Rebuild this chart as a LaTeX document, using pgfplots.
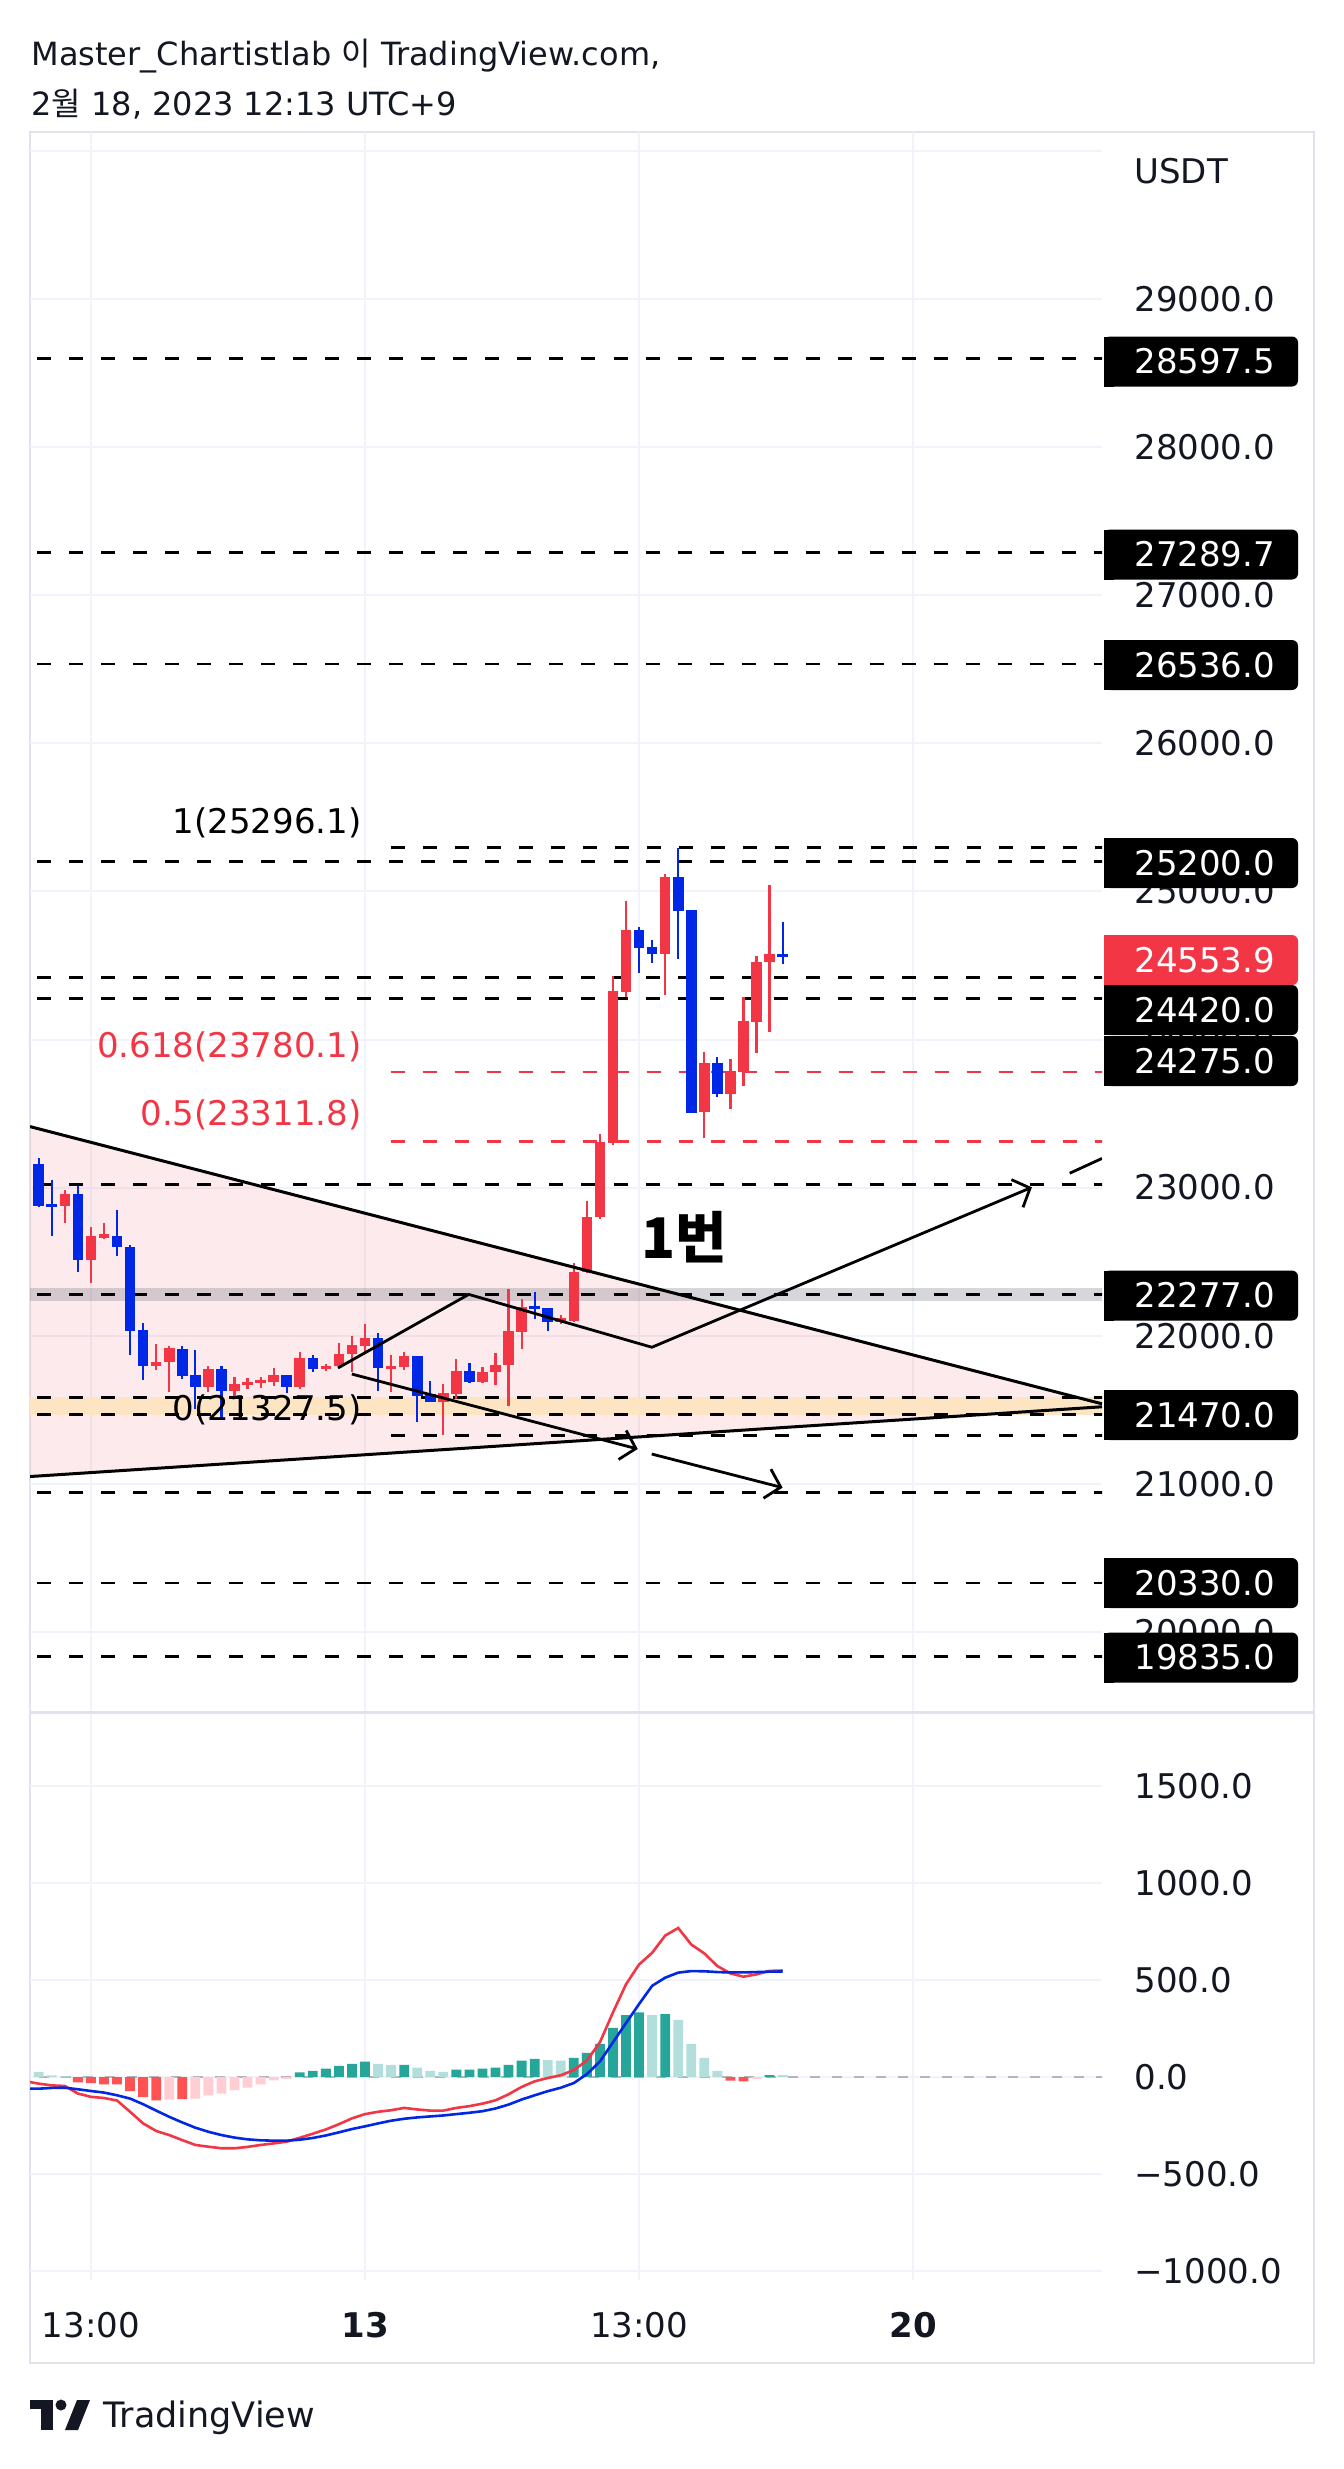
\documentclass[border=0pt]{standalone}
\usepackage{fontspec}
\usepackage{pgfplots}
\pgfplotsset{compat=1.18}
\usepackage{pgfplotstable}
\usetikzlibrary{arrows.meta}
\setmainfont{DejaVu Sans}
\newfontfamily\krfont{Noto Sans CJK KR}
\definecolor{cred}{RGB}{242,54,69}
\definecolor{cblue}{RGB}{0,38,230}
\definecolor{ctext}{RGB}{19,23,34}
\definecolor{cgrid}{RGB}{240,243,250}
\definecolor{cframe}{RGB}{224,227,235}
\definecolor{cteal}{RGB}{38,166,154}
\definecolor{clteal}{RGB}{178,223,219}
\definecolor{chred}{RGB}{255,82,82}
\definecolor{cpinkbar}{RGB}{255,205,210}
\definecolor{corange}{RGB}{253,228,195}
\definecolor{cgband}{RGB}{120,123,134}
\definecolor{czero}{RGB}{178,181,190}
\tikzset{
  dline/.style={black, line width=1.4pt, dash pattern=on 7pt off 9pt},
  rline/.style={cred, line width=1.4pt, dash pattern=on 7pt off 9pt},
  tline/.style={black, line width=1.5pt},
  arr/.style={black, line width=1.4pt, -{Straight Barb[length=7pt,width=15pt]}},
}
\newcommand\tf{\fontsize{17pt}{20pt}\selectfont}

\pgfplotstableread{
k o h l c
-23 22873 22986 22761 22957
-21 22511 22736 22360 22675
-20 22657 22758 22653 22686
-16 21797 21944 21770 21820
-15 21820 21928 21622 21914
-12 21651 21797 21622 21775
-10 21629 21719 21584 21674
-9 21667 21712 21640 21689
-8 21680 21719 21651 21696
-7 21689 21779 21662 21734
-5 21651 21887 21644 21847
-3 21775 21809 21764 21797
-2 21797 21950 21786 21876
-1 21876 21995 21757 21937
0 21932 22079 21883 21982
2 21779 21869 21622 21797
3 21786 21892 21770 21860
6 21554 21674 21329 21611
7 21606 21843 21572 21764
9 21690 21786 21680 21757
10 21757 21881 21667 21804
11 21802 22311 21523 22029
12 22027 22248 21910 22191
15 22094 22140 22079 22117
16 22101 22488 22094 22432
17 22428 22911 22423 22799
18 22799 23361 22787 23309
19 23300 24430 23287 24329
20 24322 24937 24291 24739
23 24576 25117 24300 25094
26 23512 23913 23339 23838
28 23631 23868 23530 23784
29 23782 24284 23687 24122
30 24120 24565 23912 24520
31 24520 25042 24052 24576
}\upc
\pgfplotstableread{
k o h l c
-25 23159 23197 22867 22878
-24 22882 23047 22675 22873
-22 22957 23008 22432 22511
-19 22675 22848 22536 22596
-18 22596 22614 21869 22034
-17 22038 22086 21703 21797
-14 21910 21928 21707 21730
-13 21734 21905 21509 21651
-11 21775 21797 21442 21629
-6 21734 21734 21613 21651
-4 21847 21869 21757 21775
1 21982 22018 21629 21779
4 21860 21865 21419 21595
5 21606 21692 21554 21554
8 21764 21813 21680 21690
13 22198 22293 22112 22180
14 22184 22184 22034 22090
21 24739 24761 24448 24621
22 24622 24673 24516 24576
24 25094 25290 24543 24869
25 24874 24874 23503 23507
27 23838 23879 23613 23631
32 24576 24790 24509 24554
}\dnc

\newcommand\pbox[3]{%
  \fill[#3, rounded corners=3pt] (1104,#1-25) rectangle (1298,#1+25);
  \fill[#3] (1104,#1-25) rectangle (1114,#1+25);
  \node[anchor=west, inner sep=0pt, text=white, font=\tf] at (1134,#1) {#2};}

\begin{document}
\begin{tikzpicture}
\fill[white] (0,0) rectangle (672pt,-1234.5pt);
\useasboundingbox (0,0) rectangle (672pt,-1234.5pt);

\begin{scope}[x=0.5pt,y=-0.5pt]
  \node[anchor=base west, inner sep=0pt, text=ctext, font=\fontsize{16pt}{19pt}\selectfont] at (31,65) {Master\_Chartistlab {\krfont 이} TradingView.com,};
  \node[anchor=base west, inner sep=0pt, text=ctext, font=\fontsize{16pt}{19pt}\selectfont] at (31,115) {2{\krfont 월} 18, 2023 12:13 UTC+9};
  \draw[cframe, line width=1pt] (30,132) rectangle (1314,2363);
  \node[anchor=west, inner sep=0pt, text=ctext, font=\tf] at (1134,171) {USDT};
\end{scope}

% ---------------- main price pane ----------------
\begin{axis}[
  at={(15pt,-66pt)}, anchor=north west,
  width=536pt, height=790pt, scale only axis,
  xmin=-25.67, xmax=56.475, ymin=19459, ymax=30127.6,
  axis line style={draw=none},
  major tick length=0pt,
  scaled y ticks=false, scaled x ticks=false,
  xtick={-21,0,21,42}, xticklabels={,,,},
  ytick={20000,21000,22000,23000,24000,25000,26000,27000,28000,29000,30000},
  yticklabels={20000.0,21000.0,22000.0,23000.0,24000.0,25000.0,26000.0,27000.0,28000.0,29000.0,{}},
  yticklabel pos=right,
  yticklabel style={anchor=west, inner sep=0pt, xshift=16pt, font=\tf, text=ctext},
  grid=major, major grid style={draw=cgrid, line width=1pt},
]
% triangle
\addplot[fill=cred, fill opacity=0.1, draw=none, forget plot] coordinates {(-25.67,23412) (56.475,21540) (56.475,21520) (-25.67,21049)};
% bands
\addplot[fill=corange, draw=none, forget plot] coordinates {(-30,21465) (60,21465) (60,21585) (-30,21585)};
\addplot[fill=cgband, fill opacity=0.3, draw=none, forget plot] coordinates {(-30,22232) (60,22232) (60,22322) (-30,22322)};
% horizontal lines
\addplot[dline] coordinates {(-30,28597.5) (60,28597.5)};
\addplot[dline] coordinates {(-30,27289.7) (60,27289.7)};
\addplot[dline] coordinates {(-30,26536.0) (60,26536.0)};
\addplot[dline] coordinates {(-30,25200.0) (60,25200.0)};
\addplot[dline] coordinates {(-30,24420.0) (60,24420.0)};
\addplot[dline] coordinates {(-30,24275.0) (60,24275.0)};
\addplot[dline] coordinates {(-30,23022) (60,23022)};
\addplot[dline] coordinates {(-30,22277.0) (60,22277.0)};
\addplot[dline] coordinates {(-30,21585) (60,21585)};
\addplot[dline] coordinates {(-30,21470.0) (60,21470.0)};
\addplot[dline] coordinates {(-30,20940) (60,20940)};
\addplot[dline] coordinates {(-30,20330.0) (60,20330.0)};
\addplot[dline] coordinates {(-30,19835.0) (60,19835.0)};
% fib levels
\addplot[dline] coordinates {(1.96,25296.1) (60,25296.1)};
\addplot[rline] coordinates {(1.96,23780.1) (60,23780.1)};
\addplot[rline] coordinates {(1.96,23311.8) (60,23311.8)};
\addplot[dline] coordinates {(1.96,21327.5) (60,21327.5)};
% candles: wicks
\addplot[forget plot, draw=none, mark=none, error bars/.cd, y dir=both, y explicit, error mark=none,
  error bar style={draw=cred, line width=1.1pt}]
  table[x=k, y expr={0.5*(\thisrow{h}+\thisrow{l})}, y error expr={0.5*(\thisrow{h}-\thisrow{l})+1}] {\upc};
\addplot[forget plot, draw=none, mark=none, error bars/.cd, y dir=both, y explicit, error mark=none,
  error bar style={draw=cblue, line width=1.1pt}]
  table[x=k, y expr={0.5*(\thisrow{h}+\thisrow{l})}, y error expr={0.5*(\thisrow{h}-\thisrow{l})+1}] {\dnc};
% candles: bodies
\addplot[forget plot, draw=none, mark=none, error bars/.cd, y dir=both, y explicit, error mark=none,
  error bar style={draw=cred, line width=5.3pt}]
  table[x=k, y expr={0.5*(\thisrow{o}+\thisrow{c})}, y error expr={max(0.5*abs(\thisrow{c}-\thisrow{o}),10)}] {\upc};
\addplot[forget plot, draw=none, mark=none, error bars/.cd, y dir=both, y explicit, error mark=none,
  error bar style={draw=cblue, line width=5.3pt}]
  table[x=k, y expr={0.5*(\thisrow{o}+\thisrow{c})}, y error expr={max(0.5*abs(\thisrow{c}-\thisrow{o}),10)}] {\dnc};
% triangle borders
\addplot[tline] coordinates {(-25.67,23412) (56.475,21540)};
\addplot[tline] coordinates {(-25.67,21049) (56.475,21520)};
% forecast paths
\addplot[arr] coordinates {(-2.07,21782) (7.95,22279) (21.98,21922) (51.1,23002)};
\addplot[tline, line width=1.4pt] coordinates {(54.0,23097) (56.475,23197)};
\addplot[arr] coordinates {(-1.01,21741) (20.9,21235)};
\addplot[arr] coordinates {(21.97,21201) (32.0,20974)};
\end{axis}

% ---------------- MACD pane ----------------
\begin{axis}[
  at={(15pt,-856pt)}, anchor=north west,
  width=536pt, height=284pt, scale only axis,
  xmin=-25.67, xmax=56.475, ymin=-1046, ymax=1881,
  axis line style={draw=none},
  major tick length=0pt,
  scaled y ticks=false, scaled x ticks=false,
  xtick={-21,0,21,42},
  xticklabels={13:00,\textbf{13},13:00,\textbf{20}},
  xticklabel style={anchor=center, inner sep=0pt, yshift=-22.5pt, font=\tf, text=ctext},
  ytick={-1000,-500,0,500,1000,1500},
  yticklabels={−1000.0,−500.0,0.0,500.0,1000.0,1500.0},
  yticklabel pos=right,
  yticklabel style={anchor=west, inner sep=0pt, xshift=16pt, font=\tf, text=ctext},
  grid=major, major grid style={draw=cgrid, line width=1pt},
]
\addplot[czero, line width=1.2pt, dash pattern=on 5pt off 6pt] coordinates {(-30,0) (60,0)};
\addplot[ybar, bar shift=0pt, bar width=4.9pt, fill=cteal, draw=none] coordinates {
(-5,24) (-4,32) (-3,43) (-2,58) (-1,68) (0,79) (3,63) (7,38) (8,38) (9,43) (10,48) (11,63) (12,84) (13,94)
(16,99) (17,125) (18,171) (19,253) (20,319) (21,333) (23,324) (31,10)};
\addplot[ybar, bar shift=0pt, bar width=4.9pt, fill=clteal, draw=none] coordinates {
(-25,27) (-24,9) (-23,4) (1,68) (2,63) (4,48) (5,32) (6,27) (14,87) (15,84) (22,319) (24,294) (25,171) (26,99) (27,32) (32,10)};
\addplot[ybar, bar shift=0pt, bar width=4.9pt, fill=chred, draw=none] coordinates {
(-22,-27) (-21,-31) (-20,-38) (-19,-38) (-18,-73) (-17,-104) (-16,-120) (-14,-114) (28,-19) (29,-22)};
\addplot[ybar, bar shift=0pt, bar width=4.9pt, fill=cpinkbar, draw=none] coordinates {
(-15,-116) (-13,-111) (-12,-94) (-11,-85) (-10,-68) (-9,-55) (-8,-38) (-7,-17) (-6,-9) (30,-10)};
\addplot[cred, line width=1.3pt] coordinates {
(-25.67,-26) (-25,-34) (-24,-43) (-23,-46) (-22,-85) (-21,-102) (-20,-108) (-19,-121) (-18,-179) (-17,-239)
(-16,-278) (-15,-299) (-14,-325) (-13,-350) (-12,-359) (-11,-367) (-10,-367) (-9,-360) (-8,-350) (-7,-342)
(-6,-333) (-5,-313) (-4,-292) (-3,-270) (-2,-243) (-1,-213) (0,-191) (1,-179) (2,-171) (3,-159) (4,-167)
(5,-173) (6,-173) (7,-159) (8,-150) (9,-137) (10,-120) (11,-89) (12,-51) (13,-22) (14,-5) (15,9) (16,36)
(17,85) (18,179) (19,333) (20,478) (21,580) (22,640) (23,729) (24,768) (25,683) (26,637) (27,572) (28,534)
(29,517) (30,529) (31,547) (32,549)};
\addplot[cblue, line width=1.3pt] coordinates {
(-25.67,-60) (-25,-60) (-24,-56) (-23,-55) (-22,-63) (-21,-72) (-20,-80) (-19,-94) (-18,-111) (-17,-140)
(-16,-173) (-15,-205) (-14,-234) (-13,-261) (-12,-282) (-11,-299) (-10,-312) (-9,-321) (-8,-326) (-7,-328)
(-6,-328) (-5,-323) (-4,-314) (-3,-301) (-2,-285) (-1,-268) (0,-254) (1,-239) (2,-225) (3,-215) (4,-208)
(5,-203) (6,-198) (7,-191) (8,-184) (9,-176) (10,-162) (11,-142) (12,-116) (13,-94) (14,-73) (15,-55)
(16,-31) (17,15) (18,80) (19,179) (20,278) (21,376) (22,470) (23,512) (24,538) (25,546) (26,545) (27,541)
(28,539) (29,539) (30,541) (31,543) (32,544)};
\end{axis}

\begin{scope}[x=0.5pt,y=-0.5pt]
  \draw[cframe, line width=1.5pt] (30,1712) -- (1314,1712);
  % fib labels
  \node[anchor=base east, inner sep=0pt, text=black, font=\tf] at (362,833) {1(25296.1)};
  \node[anchor=base east, inner sep=0pt, text=cred, font=\tf] at (362,1057) {0.618(23780.1)};
  \node[anchor=base east, inner sep=0pt, text=cred, font=\tf] at (362,1125) {0.5(23311.8)};
  \node[anchor=base east, inner sep=0pt, text=black, font=\tf] at (362,1420) {0(21327.5)};
  % annotation
  \node[anchor=base west, inner sep=0pt, text=black, font=\krfont\bfseries\fontsize{28pt}{32pt}\selectfont] at (641,1258) {1번};
  % price boxes
  \pbox{361.5}{28597.5}{black}
  \pbox{554.5}{27289.7}{black}
  \pbox{665}{26536.0}{black}
  \pbox{863}{25200.0}{black}
  \pbox{960}{24553.9}{cred}
  \pbox{1010}{24420.0}{black}
  \pbox{1061}{24275.0}{black}
  \pbox{1295.5}{22277.0}{black}
  \pbox{1415}{21470.0}{black}
  \pbox{1583}{20330.0}{black}
  \pbox{1657.5}{19835.0}{black}
  % TradingView logo
  \fill[ctext] (30,2400) rectangle (53,2409);
  \fill[ctext] (41,2400) rectangle (53,2430);
  \fill[ctext] (61,2405) circle (5.5);
  \fill[ctext] (65,2430) -- (77,2400) -- (90,2400) -- (78,2430) -- cycle;
  \node[anchor=base west, inner sep=0pt, text=ctext, font=\fontsize{17.5pt}{20pt}\selectfont] at (103,2427) {TradingView};
\end{scope}
\end{tikzpicture}
\end{document}
